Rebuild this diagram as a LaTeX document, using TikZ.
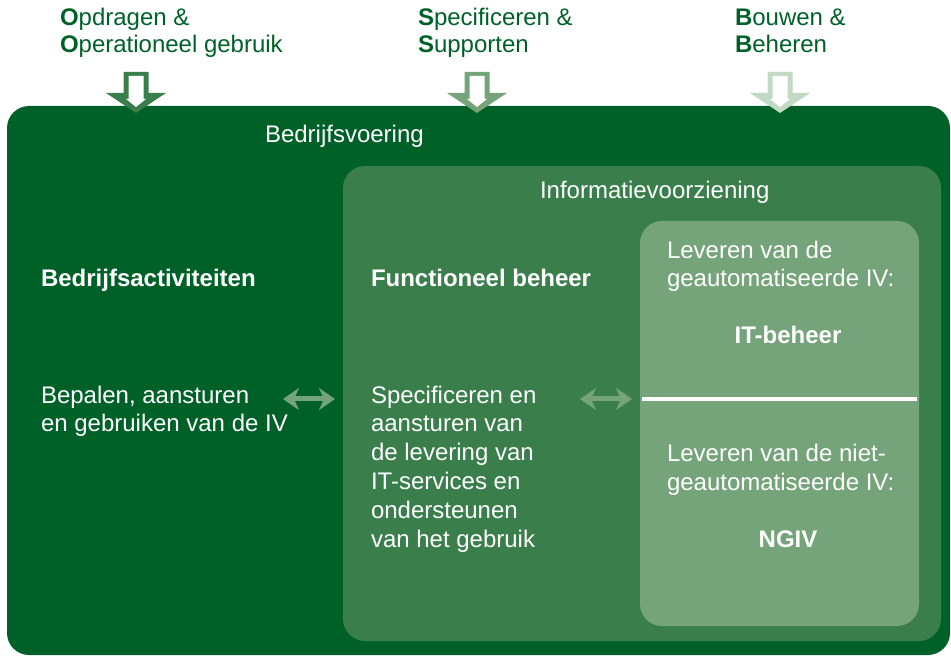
\documentclass[tikz,border=0pt]{standalone}
\usepackage{fontspec}
\setmainfont{Liberation Sans}
\usepackage{xcolor}
\usepackage{tikz}
\usetikzlibrary{positioning, arrows.meta}

\definecolor{bvgreen}{HTML}{006128}
\definecolor{ivgreen}{HTML}{3A7E4C}
\definecolor{itgreen}{HTML}{75A47A}
\definecolor{palegreen}{HTML}{C2D9C4}

\begin{document}
\begin{tikzpicture}[
    x = 0.5pt, y = -0.5pt,
    every node/.style = {
        inner sep=0pt, outer sep=0pt, align=left,
        font=\fontsize{12}{14.4}\selectfont
    },
    toptext/.style = {anchor=base west, text=bvgreen,
        font=\fontsize{12}{13.5}\selectfont},
    boxtext/.style = {anchor=base west, text=white},
    boldtext/.style = {text=white, font=\fontsize{12}{14.4}\selectfont\bfseries},
    area/.style = {rounded corners=11pt},
    twoway/.style = {itgreen, line width=2.5pt,
        {Stealth[length=8pt, width=11pt, inset=2.5pt]}-{Stealth[length=8pt, width=11pt, inset=2.5pt]}}
  ]
    \useasboundingbox (0,0) rectangle (951,656);

    % vlakken
    \fill[bvgreen, area] (7,106) rectangle (950,655);
    \fill[ivgreen, area] (343,166) rectangle (941,641);
    \fill[itgreen, area] (640,221) rectangle (919,626);
    \draw[white, line width=2pt] (642,399) -- (917,399);

    % pijlen naar beneden
    \foreach \cx/\col in {136/ivgreen, 477/itgreen, 780/palegreen} {
        \fill[\col] (\cx-12.5,72) -- (\cx+12.5,72) -- (\cx+12.5,93) -- (\cx+30,93)
            -- (\cx,113) -- (\cx-30,93) -- (\cx-12.5,93) -- cycle;
        \fill[white] (\cx-7.5,76) -- (\cx+7.5,76) -- (\cx+7.5,99) -- (\cx+10,99)
            -- (\cx,107) -- (\cx-10,99) -- (\cx-7.5,99) -- cycle;
    }

    % bovenste teksten (anker op de laatste regel)
    \node[toptext] (opdragen) at (60,53) {\textbf{O}pdragen \&\\\textbf{O}perationeel gebruik};
    \node[toptext] (specsup) at (418,53) {\textbf{S}pecificeren \&\\\textbf{S}upporten};
    \node[toptext] (bouwen) at (735,53) {\textbf{B}ouwen \&\\\textbf{B}eheren};

    % koppen
    \node[boxtext] (bedrijfsvoering) at (265,143) {Bedrijfsvoering};
    \node[boxtext] (infovz) at (540,199) {Informatievoorziening};

    % kolommen
    \node[boldtext, anchor=base west] (bedrijfsact) at (41,287) {Bedrijfsactiviteiten};
    \node[boxtext] (bepalen) at (41,432) {Bepalen, aansturen\\en gebruiken van de IV};
    \node[boldtext, anchor=base west] (funcbeheer) at (371,287) {Functioneel beheer};
    \node[boxtext] (specificeren) at (371,547) {Specificeren en\\aansturen van\\de levering van\\IT-services en\\ondersteunen\\van het gebruik};
    \node[boxtext] (levIT) at (667,287) {Leveren van de\\geautomatiseerde IV:};
    \node[boldtext, anchor=base] (itbeheer) at (788,344) {IT-beheer};
    \node[boxtext] (levNGIV) at (667,490) {Leveren van de niet-\\geautomatiseerde IV:};
    \node[boldtext, anchor=base] (ngiv) at (788,547) {NGIV};

    % pijlen tussen de kolommen
    \coordinate (bepR) at (335,399);
    \coordinate (bepL) at (283,399);
    \coordinate (specR) at (632,399);
    \coordinate (specL) at (580,399);
    \draw[twoway] (bepL) -- (bepR);
    \draw[twoway] (specL) -- (specR);
\end{tikzpicture}
\end{document}
